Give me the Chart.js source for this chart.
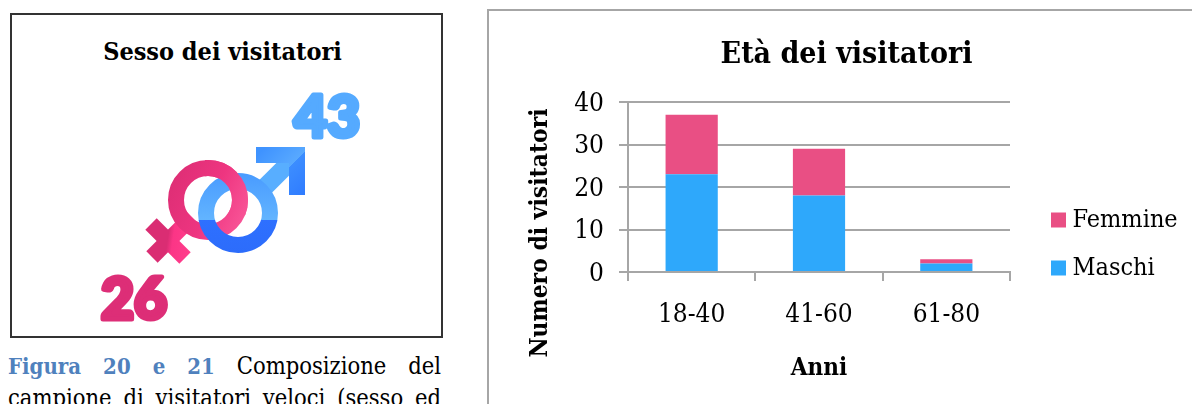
<!DOCTYPE html>
<html>
<head>
  <title>Visitatori</title>
  <style>
    html, body { margin: 0; height: 404px; overflow: hidden; background: #fff; }
    body { position: relative; width: 1192px; font-family: "DejaVu Serif Condensed", "DejaVu Serif", serif; color: #000; }
    #sexBox { position: absolute; left: 10px; top: 13px; width: 429px; height: 321px; border: 2px solid #333; }
    #sexTitle { position: absolute; left: 6px; top: 37px; width: 433px; text-align: center; font-weight: bold; font-size: 25px; line-height: 30px; }
    #pict { position: absolute; left: 0; top: 0; }
    #pict text { font-family: Lato, sans-serif; font-weight: 900; font-size: 57px; stroke-width: 5px; stroke-linejoin: round; }
    .cap { position: absolute; left: 8px; width: 433px; font-size: 23.5px; line-height: 32px; text-align: justify; text-align-last: justify; white-space: nowrap; }
    .cap b { color: #4f81bd; font-size: 22px; }
    #ageBox { position: absolute; left: 487px; top: 9px; width: 720px; height: 420px; border: 2px solid #a6a6a6; }
    #wrap { position: absolute; left: 501px; top: 12px; width: 691px; height: 392px; }
  </style>
</head>
<body>
  <div id="sexBox"></div>
  <div id="sexTitle">Sesso dei visitatori</div>
  <svg id="pict" width="460" height="404" xmlns="http://www.w3.org/2000/svg">
    <defs>
      <linearGradient id="pink" gradientUnits="userSpaceOnUse" x1="150" y1="190" x2="250" y2="235">
        <stop offset="0" stop-color="#d92c72"/>
        <stop offset="0.55" stop-color="#ee3580"/>
        <stop offset="1" stop-color="#fb5d9d"/>
      </linearGradient>
      <linearGradient id="crossPink" gradientUnits="userSpaceOnUse" x1="155" y1="240" x2="190" y2="245">
        <stop offset="0.35" stop-color="#da2d73"/>
        <stop offset="0.5" stop-color="#fb3586"/>
        <stop offset="1" stop-color="#ff3d8b"/>
      </linearGradient>
      <linearGradient id="blueRing" gradientUnits="userSpaceOnUse" x1="0" y1="175" x2="0" y2="255">
        <stop offset="0" stop-color="#4a9cff"/>
        <stop offset="0.56" stop-color="#62b4ff"/>
        <stop offset="0.56" stop-color="#2e70ff"/>
        <stop offset="1" stop-color="#2c6cfb"/>
      </linearGradient>
      <linearGradient id="blueArrow" gradientUnits="userSpaceOnUse" x1="262" y1="150" x2="306" y2="194">
        <stop offset="0" stop-color="#3f93ff"/>
        <stop offset="0.5" stop-color="#58a9ff"/>
        <stop offset="0.51" stop-color="#3c8dff"/>
        <stop offset="1" stop-color="#2f7bff"/>
      </linearGradient>
      <clipPath id="overlap"><rect x="205" y="150" width="60" height="65"/></clipPath>
    </defs>
    <text id="femaleNum" x="134" y="319" text-anchor="middle" fill="#dd2e77" stroke="#dd2e77"></text>
    <text id="maleNum" x="327" y="137" text-anchor="middle" fill="#55aaff" stroke="#55aaff"></text>
    <line x1="151" y1="224" x2="185" y2="258" stroke="url(#crossPink)" stroke-width="16"/>
    <line x1="152" y1="257" x2="192" y2="217" stroke="url(#crossPink)" stroke-width="16"/>
    <circle cx="208" cy="200" r="32" fill="none" stroke="url(#pink)" stroke-width="16"/>
    <line x1="258" y1="194" x2="297" y2="155" stroke="#58aeff" stroke-width="18"/>
    <polygon points="256,147 305,147 305,195 289,195 289,163 256,163" fill="url(#blueArrow)"/>
    <circle cx="238" cy="213" r="32" fill="none" stroke="url(#blueRing)" stroke-width="16"/>
    <circle cx="208" cy="200" r="32" fill="none" stroke="url(#pink)" stroke-width="16" clip-path="url(#overlap)"/>
  </svg>
  <div class="cap" style="top:350px"><b>Figura 20 e 21</b> Composizione del</div>
  <div class="cap" style="top:382px">campione di visitatori veloci (sesso ed</div>
  <div id="ageBox"></div>
  <div id="wrap"><canvas id="chart" width="691" height="392"></canvas></div>

  <script src="https://cdn.jsdelivr.net/npm/chart.js"></script>
  <script>
    const categories = ['18-40', '41-60', '61-80'];
    const maschi = [23, 18, 2];
    const femmine = [14, 11, 1];
    const sexCounts = [26, 43]; // femmine, maschi
    const yTicks = [0, 10, 20, 30, 40];

    document.getElementById('femaleNum').textContent = sexCounts[0];
    document.getElementById('maleNum').textContent = sexCounts[1];

    const serif = '"DejaVu Serif Condensed", "DejaVu Serif", serif';
    const gray = '#a6a6a6';

    // the y title sits lower than the plot centre, so it is drawn by hand
    const yTitle = {
      id: 'yTitle',
      afterDraw(chart) {
        const ctx = chart.ctx;
        ctx.save();
        ctx.translate(40, 221);
        ctx.rotate(-Math.PI / 2);
        ctx.font = 'bold 24.4px ' + serif;
        ctx.fillStyle = '#000';
        ctx.textAlign = 'center';
        ctx.textBaseline = 'middle';
        ctx.fillText('Numero di visitatori', 0, 0);
        ctx.restore();
      }
    };

    // keeps a gap between plot and legend and moves the legend down
    const legendPlace = {
      id: 'legendPlace',
      beforeInit(chart) {
        const fit = chart.legend.fit;
        chart.legend.fit = function () {
          fit.call(this);
          this.width = 182;
        };
      },
      afterLayout(chart) {
        const legend = chart.legend;
        legend.left = 533;
        legend.top += 36;
        legend.bottom += 36;
      }
    };

    new Chart(document.getElementById('chart'), {
      type: 'bar',
      data: {
        labels: categories,
        datasets: [
          { label: 'Maschi', data: maschi, backgroundColor: '#2ea8fb' },
          { label: 'Femmine', data: femmine, backgroundColor: '#e94f84' }
        ]
      },
      plugins: [yTitle, legendPlace],
      options: {
        responsive: false,
        animation: false,
        datasets: { bar: { categoryPercentage: 1, barPercentage: 0.41 } },
        plugins: {
          tooltip: { enabled: false },
          title: {
            display: true,
            text: 'Età dei visitatori',
            color: '#000',
            font: { family: serif, size: 30, weight: 'bold' },
            padding: { top: 25, bottom: 29 }
          },
          legend: {
            position: 'right',
            reverse: true,
            labels: {
              usePointStyle: true,
              pointStyle: 'rect',
              boxWidth: 3,
              boxHeight: 15,
              padding: 23,
              color: '#000',
              font: { family: serif, size: 25 }
            }
          }
        },
        scales: {
          x: {
            stacked: true,
            afterFit(scale) { scale.height = 132; },
            grid: { offset: true, drawOnChartArea: false, color: gray, lineWidth: 2, tickLength: 9 },
            border: { color: gray, width: 2 },
            ticks: { color: '#000', font: { family: serif, size: 26 }, padding: 19, maxRotation: 0 },
            title: {
              display: true,
              text: 'Anni',
              color: '#000',
              font: { family: serif, size: 24, weight: 'bold' },
              padding: { top: 0, bottom: 21 }
            }
          },
          y: {
            stacked: true,
            min: 0,
            max: 40,
            afterFit(scale) { scale.width = 127; },
            afterBuildTicks(scale) { scale.ticks = yTicks.map(v => ({ value: v })); },
            grid: { color: gray, lineWidth: 2, tickLength: 9 },
            border: { color: gray, width: 2 },
            ticks: { color: '#000', font: { family: serif, size: 26 }, padding: 15, labelOffset: 2 }
          }
        }
      }
    });
  </script>
</body>
</html>
